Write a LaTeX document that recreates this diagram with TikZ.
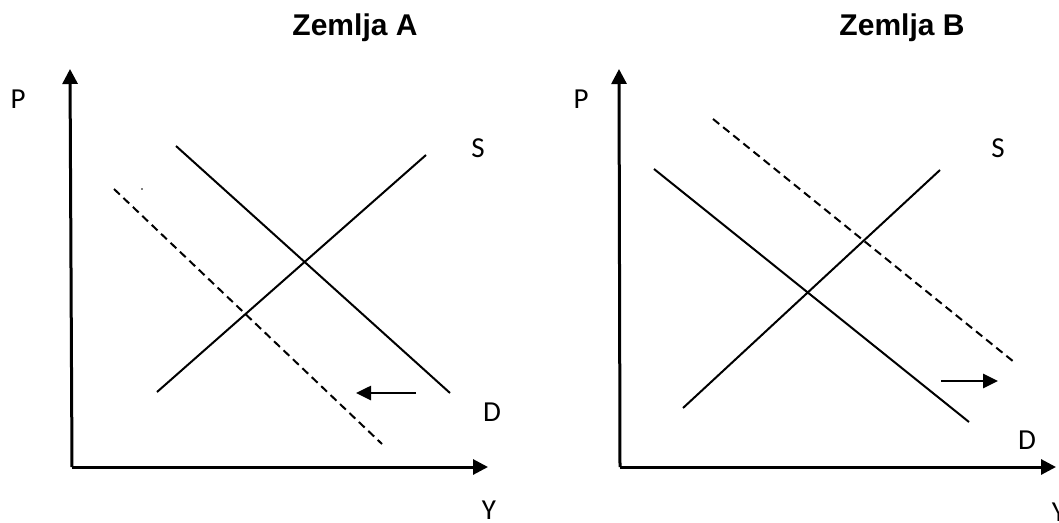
\documentclass[tikz,border=0pt]{standalone}
\usepackage{fontspec}
\newfontfamily\labfont{Carlito}
\newfontfamily\titfont{Liberation Sans}
\usetikzlibrary{arrows.meta}
\begin{document}
\begin{tikzpicture}[x=1pt,y=-1pt,
  axis/.style={line width=3pt,-{Triangle[length=15pt,width=15pt]}},
  curve/.style={line width=2pt},
  shifted/.style={line width=2pt,dash pattern=on 8pt off 5pt},
  shiftarrow/.style={line width=2.6pt,-{Triangle[length=15pt,width=14pt]}},
  lab/.style={font=\labfont\fontsize{29}{31}\selectfont,inner sep=0pt},
  title/.style={font=\titfont\bfseries\fontsize{30}{33}\selectfont,inner sep=0pt}]
\useasboundingbox (0,0) rectangle (1059,522);
% Panel A
\node[title] (tA) at (355,28) {Zemlja A};
\coordinate (oA) at (72,467);
\coordinate (yA) at (70,69);
\coordinate (xA) at (488,467);
\draw[axis] (oA) -- (yA);
\draw[axis] (oA) -- (xA);
\node[lab] (PA) at (18,99) {P};
\node[lab] (YA) at (489,510) {Y};
\node[lab] (SA) at (478,148) {S};
\node[lab] (DA) at (492,412) {D};
\coordinate (sA1) at (157,392);
\coordinate (sA2) at (426,155);
\coordinate (dA1) at (176,146);
\coordinate (dA2) at (450,393);
\coordinate (nA1) at (114,189);
\coordinate (nA2) at (382,444);
\draw[curve] (sA1) -- (sA2);
\draw[curve] (dA1) -- (dA2);
\draw[shifted] (nA1) -- (nA2);
\fill (142,189) circle (0.8);
\coordinate (aA1) at (416,393);
\coordinate (aA2) at (356,393);
\draw[shiftarrow] (aA1) -- (aA2);
% Panel B
\node[title] (tB) at (902,28) {Zemlja B};
\coordinate (oB) at (620,467);
\coordinate (yB) at (619,69);
\coordinate (xB) at (1056,467);
\draw[axis] (oB) -- (yB);
\draw[axis] (oB) -- (xB);
\node[lab] (PB) at (581,99) {P};
\node[lab] (YB) at (1059,512) {Y};
\node[lab] (SB) at (998,148) {S};
\node[lab] (DB) at (1027,440) {D};
\coordinate (sB1) at (683,408);
\coordinate (sB2) at (940,170);
\coordinate (dB1) at (654,169);
\coordinate (dB2) at (969,422);
\coordinate (nB1) at (713,119);
\coordinate (nB2) at (1014,362);
\draw[curve] (sB1) -- (sB2);
\draw[curve] (dB1) -- (dB2);
\draw[shifted] (nB1) -- (nB2);
\coordinate (aB1) at (941,381);
\coordinate (aB2) at (998,381);
\draw[shiftarrow] (aB1) -- (aB2);
\end{tikzpicture}
\end{document}
